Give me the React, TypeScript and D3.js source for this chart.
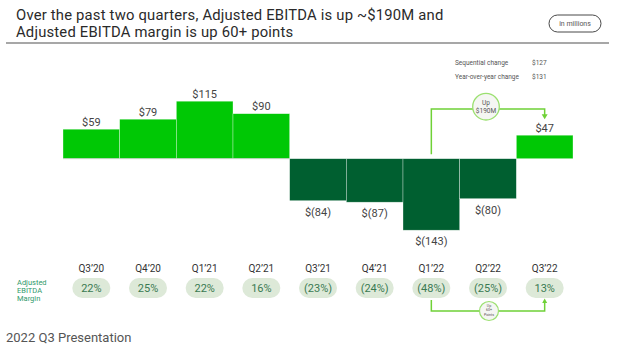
import * as d3 from "d3";
import { useEffect, useRef } from "react";

const quarters = ["Q3’20", "Q4’20", "Q1’21", "Q2’21", "Q3’21", "Q4’21", "Q1’22", "Q2’22", "Q3’22"];
const ebitda = [59, 79, 115, 90, -84, -87, -143, -80, 47];
const margins = [22, 25, 22, 16, -23, -24, -48, -25, 13];
const changeLabels = ["Sequential change", "Year-over-year change"];
const changeValues = [127, 131];

const WIDTH = 623;
const HEIGHT = 350;
const FONT = "Roboto, 'Liberation Sans', Arial, sans-serif";

const fmtMoney = (v: number) => (v < 0 ? `$(${Math.abs(v)})` : `$${v}`);
const fmtPct = (v: number) => (v < 0 ? `(${Math.abs(v)}%)` : `${v}%`);

export default function App() {
  const ref = useRef<SVGSVGElement>(null);

  useEffect(() => {
    if (!ref.current) return;
    const svg = d3.select(ref.current);
    svg.selectAll("*").remove();

    // title
    const title = svg.append("g").style("font-family", FONT).style("fill", "#2a2a2a");
    title.append("text").attr("x", 16).attr("y", 19.5).style("font-size", "14.8px")
      .style("letter-spacing", "0.2px")
      .text("Over the past two quarters, Adjusted EBITDA is up ~$190M and");
    title.append("text").attr("x", 16).attr("y", 37).style("font-size", "14.8px")
      .style("letter-spacing", "0.2px")
      .text("Adjusted EBITDA margin is up 60+ points");
    svg.append("line").attr("x1", 6).attr("x2", 609).attr("y1", 43).attr("y2", 43)
      .attr("stroke", "#8a8a8a").attr("stroke-width", 1.3);

    // "in millions" pill
    svg.append("rect").attr("x", 549).attr("y", 15).attr("width", 52).attr("height", 17).attr("rx", 8.5)
      .attr("fill", "#fff").attr("stroke", "#333").attr("stroke-width", 0.9);
    svg.append("text").attr("x", 575).attr("y", 26).attr("text-anchor", "middle")
      .style("font-family", FONT).style("font-size", "7px").style("fill", "#555").text("in millions");

    // change legend
    changeLabels.forEach((l, i) => {
      const y = 65 + i * 13.5;
      svg.append("text").attr("x", 455).attr("y", y).style("font-family", FONT)
        .style("font-size", "6.5px").style("fill", "#555").text(l);
      svg.append("text").attr("x", 532).attr("y", y).style("font-family", FONT)
        .style("font-size", "6.5px").style("fill", "#555").text(fmtMoney(changeValues[i]));
    });

    const x = d3.scaleBand<string>().domain(quarters).range([63, 573]).padding(0);
    const y = d3.scaleLinear().domain([-150, 120]).range([233.7, 98.7]);
    const zero = y(0);

    // bars
    svg.append("g").selectAll("rect").data(ebitda).join("rect")
      .attr("x", (_d, i) => x(quarters[i])!)
      .attr("width", x.bandwidth())
      .attr("y", (d) => Math.min(y(d), zero))
      .attr("height", (d) => Math.abs(y(d) - zero))
      .attr("fill", (d) => (d >= 0 ? "#00c805" : "#005f30"))
      .attr("stroke", "rgba(255,255,255,0.55)")
      .attr("stroke-width", 0.6);

    svg.append("line").attr("x1", 63).attr("x2", x("Q2’21")! + x.bandwidth())
      .attr("y1", zero).attr("y2", zero).attr("stroke", "#c9c9c9").attr("stroke-width", 0.8);

    // value labels
    svg.append("g").selectAll("text").data(ebitda).join("text")
      .attr("x", (_d, i) => x(quarters[i])! + x.bandwidth() / 2)
      .attr("y", (d) => (d >= 0 ? y(d) - 3.5 : y(d) + 15))
      .attr("text-anchor", "middle")
      .style("font-family", FONT).style("font-size", "11px").style("fill", "#444")
      .text((d) => fmtMoney(d));

    // "Up $190M" bracket
    const cx = (q: string) => x(q)! + x.bandwidth() / 2;
    const bx1 = cx("Q1’22");
    const bx2 = cx("Q3’22");
    const by = 109;
    const lime = "#6fd137";
    svg.append("path")
      .attr("d", `M${bx1},${zero - 4.5} V${by} H${bx2} V${y(ebitda[8]) - 20}`)
      .attr("fill", "none").attr("stroke", lime).attr("stroke-width", 1.5);
    svg.append("path")
      .attr("d", `M${bx2 - 3},${y(ebitda[8]) - 21} L${bx2 + 3},${y(ebitda[8]) - 21} L${bx2},${y(ebitda[8]) - 16} Z`)
      .attr("fill", lime);
    svg.append("circle").attr("cx", 486).attr("cy", 106.7).attr("r", 13.3)
      .attr("fill", "#f5f6f3").attr("stroke", "#9be070").attr("stroke-width", 1.3);
    svg.append("text").attr("x", 486).attr("y", 105).attr("text-anchor", "middle")
      .style("font-family", FONT).style("font-size", "6.5px").style("fill", "#555").text("Up");
    svg.append("text").attr("x", 486).attr("y", 112.5).attr("text-anchor", "middle")
      .style("font-family", FONT).style("font-size", "6.5px").style("fill", "#555").text("$190M");

    // quarter labels
    svg.append("g").selectAll("text").data(quarters).join("text")
      .attr("x", (d) => cx(d))
      .attr("y", 272)
      .attr("text-anchor", "middle")
      .style("font-family", FONT).style("font-size", "10px").style("fill", "#333")
      .text((d) => d);

    // margin row
    ["Adjusted", "EBITDA", "Margin"].forEach((t, i) => {
      svg.append("text").attr("x", 17).attr("y", 284.5 + i * 8.3)
        .style("font-family", FONT).style("font-size", "7.5px").style("fill", "#2f9a6b").text(t);
    });
    const pills = svg.append("g").selectAll("g").data(margins).join("g")
      .attr("transform", (_d, i) => `translate(${cx(quarters[i])},288)`);
    pills.append("rect").attr("x", -19).attr("y", -10).attr("width", 38).attr("height", 20).attr("rx", 10)
      .attr("fill", "#dde9d8");
    pills.append("text").attr("y", 3.8).attr("text-anchor", "middle")
      .style("font-family", FONT).style("font-size", "11px").style("fill", "#3a7a52")
      .text((d) => fmtPct(d));

    // "Up 60+ points" bracket
    const my = 311;
    svg.append("path")
      .attr("d", `M${bx1},300 V${my} H${bx2} V303`)
      .attr("fill", "none").attr("stroke", lime).attr("stroke-width", 1.5);
    svg.append("path")
      .attr("d", `M${bx2 - 2.5},303 L${bx2 + 2.5},303 L${bx2},298.5 Z`).attr("fill", lime);
    svg.append("circle").attr("cx", 489).attr("cy", my).attr("r", 9.5)
      .attr("fill", "#f5f6f3").attr("stroke", "#9be070").attr("stroke-width", 1.2);
    ["Up", "60+", "Points"].forEach((t, i) => {
      svg.append("text").attr("x", 489).attr("y", 307 + i * 4.3).attr("text-anchor", "middle")
        .style("font-family", FONT).style("font-size", "3.6px").style("fill", "#555").text(t);
    });

    // footer
    svg.append("text").attr("x", 6).attr("y", 341.5)
      .style("font-family", FONT).style("font-size", "13px").style("fill", "#555")
      .text("2022 Q3 Presentation");
  }, []);

  return (
    <svg
      ref={ref}
      width={WIDTH}
      height={HEIGHT}
      style={{ position: "absolute", left: 0, top: 0, background: "#fff", display: "block" }}
    />
  );
}
